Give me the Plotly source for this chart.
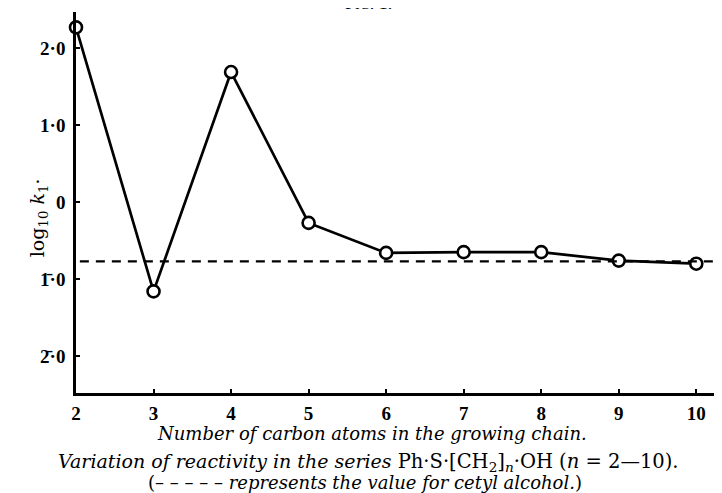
import plotly.graph_objects as go

# Data
n_carbon = [2, 3, 4, 5, 6, 7, 8, 9, 10]
log_k1 = [2.27, -1.16, 1.69, -0.27, -0.66, -0.65, -0.65, -0.76, -0.80]
cetyl_log_k1 = -0.77

x_ticks = [2, 3, 4, 5, 6, 7, 8, 9, 10]
x_tick_labels = ["2", "3", "4", "5", "6", "7", "8", "9", "10"]
y_ticks = [2, 1, 0, -1, -2]
y_tick_labels = ["2·0", "1·0", "0", "1\u0304·0", "2\u0304·0"]

num_font = "Liberation Serif, serif"
txt_font = "DejaVu Serif, serif"

fig = go.Figure()
fig.add_trace(go.Scatter(
    x=n_carbon, y=log_k1, mode="lines+markers",
    line=dict(color="black", width=2.7),
    marker=dict(symbol="circle", size=12, color="white",
                line=dict(color="black", width=2.6)),
    cliponaxis=False, showlegend=False, hoverinfo="skip",
))

fig.add_shape(type="line", xref="paper", x0=0.006, x1=1, yref="y",
              y0=cetyl_log_k1, y1=cetyl_log_k1,
              line=dict(color="black", width=2.4, dash="9px,7px"))

roman = "<span style='font-size:19.5px'>"
caption1 = ("<i>Variation of reactivity in the series </i>" + roman +
            "Ph·S·[CH<sub>2</sub>]<sub><i>n</i></sub>·OH (<i>n</i> = 2—10).</span>")

fig.update_layout(
    width=714, height=485,
    margin=dict(l=68, r=4, t=4, b=100),
    paper_bgcolor="white", plot_bgcolor="white",
    font=dict(family=txt_font, color="black", size=16),
    xaxis=dict(
        range=[2, 10.28], tickvals=x_ticks, ticktext=x_tick_labels,
        showgrid=False, zeroline=False, showline=True,
        linecolor="black", linewidth=2.6,
        ticks="inside", ticklen=4, tickwidth=1.5, tickcolor="black",
        tickfont=dict(family=num_font, size=19, color="black", weight="bold"),
        ticklabelstandoff=1,
        fixedrange=True,
    ),
    yaxis=dict(
        range=[-2.48, 2.47], tickvals=y_ticks, ticktext=y_tick_labels,
        showgrid=False, zeroline=False, showline=True,
        linecolor="black", linewidth=2.6,
        ticks="inside", ticklen=4, tickwidth=1.5, tickcolor="black",
        tickfont=dict(family=num_font, size=19, color="black", weight="bold"),
        ticklabelstandoff=4,
        fixedrange=True,
    ),
    annotations=[
        dict(text="F<span style='font-size:14px'>IG</span>. 1.",
             xref="paper", yref="paper", x=0.455, y=1, yanchor="bottom",
             yshift=-3, showarrow=False, font=dict(family=num_font, size=18)),
        dict(text="log<sub>10</sub> <i>k</i><sub>1</sub>·",
             xref="paper", yref="paper", x=0, y=0.46, xshift=-52,
             textangle=-90, showarrow=False, font=dict(size=19)),
        dict(text="<i>Number of carbon atoms in the growing chain.</i>",
             xref="paper", yref="paper", x=0.461, y=0, yshift=-40,
             yanchor="middle", showarrow=False, font=dict(size=18)),
        dict(text=caption1,
             xref="paper", yref="paper", x=0.455, y=0, yshift=-69,
             yanchor="middle", showarrow=False, font=dict(size=19)),
        dict(text="(– – – – – <i>represents the value for cetyl alcohol.</i>)",
             xref="paper", yref="paper", x=0.450, y=0, yshift=-89,
             yanchor="middle", showarrow=False, font=dict(size=18)),
    ],
)

fig.write_html("out.html")
